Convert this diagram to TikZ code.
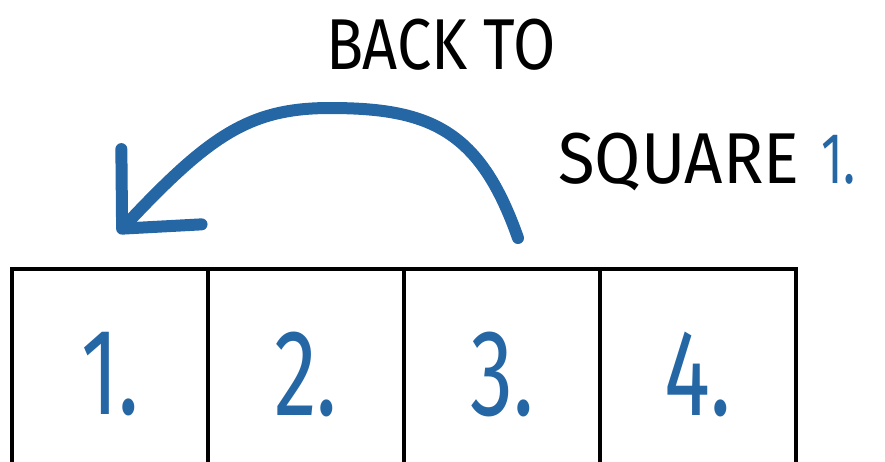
\documentclass[tikz,border=0pt]{standalone}
\usepackage{fontspec}
\setmainfont{Fira Sans}
\newfontfamily\handfont[FakeStretch=0.85]{Fira Sans}
\newfontfamily\widehandfont[FakeStretch=0.93]{Fira Sans}
\newfontfamily\numfont[FakeStretch=0.7]{Fira Sans}
\usepackage{xcolor}
\definecolor{cInk}{HTML}{000000}
\definecolor{cPen}{HTML}{2566A5}
\usepackage{tikz}
\usetikzlibrary{positioning,arrows.meta}
\tikzset{
  cell-box/.style={draw=cInk,line width=0.08cm,minimum width=3.92cm,
    minimum height=4.2cm,inner sep=0pt,outer sep=0pt,text=cPen,
    font=\numfont\fontsize{70}{70}\selectfont},
  hand-text/.style={text=cInk,inner sep=0pt,
    font=\handfont\fontsize{41}{41}\selectfont},
  arrow-back/.style={-{Straight Barb[length=11.5mm,width=22mm,round]},
    line width=0.24cm,draw=cPen,line cap=round},
}

\begin{document}
\begin{tikzpicture}[x=0.02cm,y=-0.02cm]
  \useasboundingbox (0,0) rectangle (885,461);
  \node[cell-box,anchor=north west] (cell1) at (12,269) {1.};
  \node[cell-box,right=0pt of cell1] (cell2) {2.};
  \node[cell-box,right=0pt of cell2] (cell3) {3.};
  \node[cell-box,right=0pt of cell3] (cell4) {4.};
  \node[hand-text] (back) at (441,45) {BACK TO};
  \node[hand-text,anchor=west,font=\widehandfont\fontsize{41}{41}\selectfont]
    (square) at (558,162) {SQUARE\hspace{0.3em}{\numfont\textcolor{cPen}{1.}}};
  % pen stroke from above 3. back to above 1.
  \coordinate (arc-start) at (518,238);
  \coordinate (arc-end) at (118,233);
  \draw[arrow-back] (arc-start) .. controls (480,130) and (430,108) .. (330,108)
    .. controls (250,108) and (210,135) .. (arc-end);
\end{tikzpicture}
\end{document}
